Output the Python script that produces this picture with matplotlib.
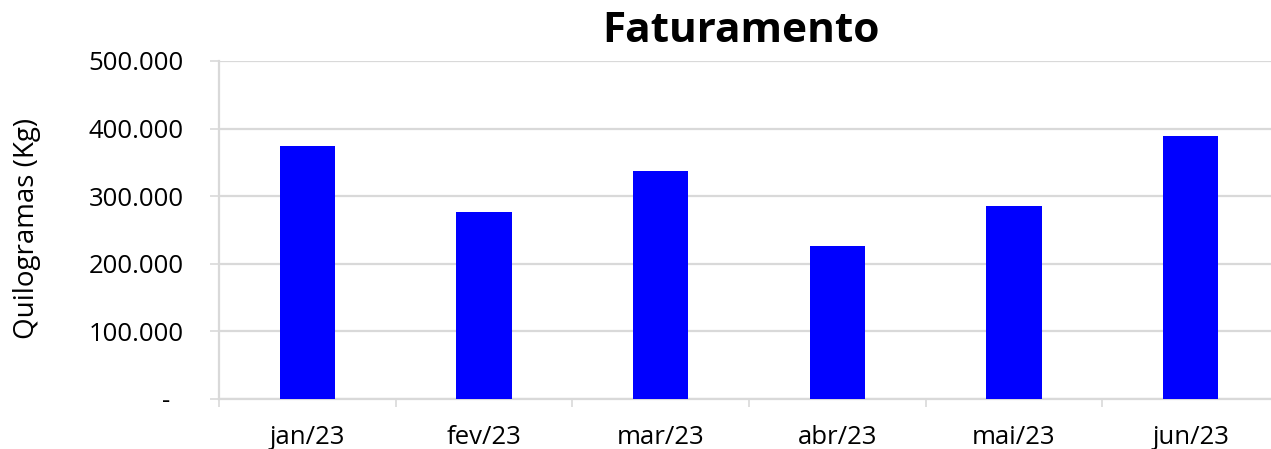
import numpy as np
import matplotlib
matplotlib.use("Agg")
import matplotlib.pyplot as plt
from matplotlib.ticker import FuncFormatter, MultipleLocator

# data
meses = ["jan/23", "fev/23", "mar/23", "abr/23", "mai/23", "jun/23"]
quilos = [374000, 276000, 337000, 226000, 285000, 389000]

GRID = "#d9d9d9"
plt.rcParams["font.family"] = ["Open Sans", "DejaVu Sans"]


def fmt_kg(v, pos):
    if v == 0:
        return "-  "
    return f"{v:,.0f}".replace(",", ".")


def main() -> None:
    W, H = 1271, 449
    fig = plt.figure(figsize=(W / 100, H / 100), dpi=100)
    ax = fig.add_axes([219 / W, 50 / H, 1060 / W, 338 / H])

    x = np.arange(len(meses))
    ax.bar(x, quilos, width=0.313, color="#0000ff", zorder=3)

    ax.set_xlim(-0.5, len(meses) - 0.5)
    ax.set_ylim(0, 500000)
    ax.yaxis.set_major_locator(MultipleLocator(100000))
    ax.yaxis.set_major_formatter(FuncFormatter(fmt_kg))
    ax.set_xticks(x)
    ax.set_xticklabels(meses)
    ax.set_xticks(np.arange(len(meses) + 1) - 0.5, minor=True)

    ax.grid(axis="y", color=GRID, linewidth=1.6, zorder=0)
    for side in ["top", "right"]:
        ax.spines[side].set_visible(False)
    for side in ["left", "bottom"]:
        ax.spines[side].set_color(GRID)
        ax.spines[side].set_linewidth(1.6)

    ax.tick_params(axis="y", length=6.5, width=1.2, color=GRID, pad=19,
                   labelsize=18.5, labelcolor="black")
    ax.tick_params(axis="x", which="major", length=0, pad=19,
                   labelsize=18.5, labelcolor="black")
    ax.tick_params(axis="x", which="minor", length=6, width=1.2, color=GRID)

    fig.text(741 / W, 1 - 31 / H, "Faturamento", ha="center", va="center",
             fontsize=30.5, fontweight="bold")
    fig.text(27 / W, 1 - 228 / H, "Quilogramas (Kg)", ha="center", va="center",
             rotation=90, fontsize=20)

    fig.savefig("out.png", dpi=100)
    plt.close(fig)


if __name__ == "__main__":
    main()
